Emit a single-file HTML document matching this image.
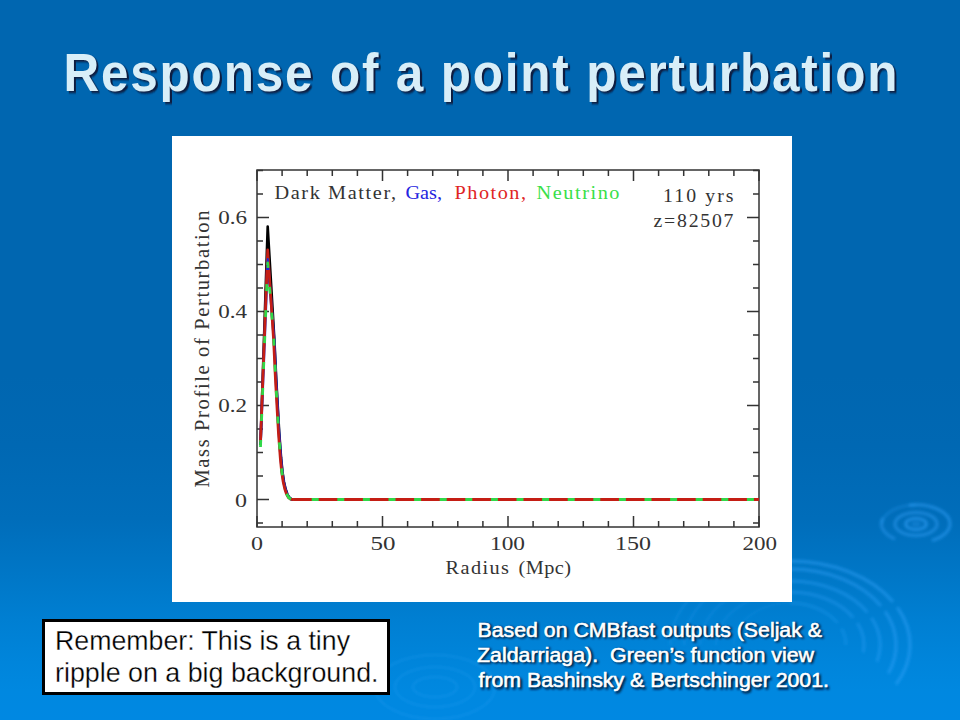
<!DOCTYPE html>
<html><head><meta charset="utf-8">
<style>
html,body{margin:0;padding:0;width:960px;height:720px;overflow:hidden;background:#0066b0;}
svg{display:block;}
</style></head>
<body>
<svg width="960" height="720" viewBox="0 0 960 720">
<defs>
<linearGradient id="bg" x1="0" y1="0" x2="0" y2="720" gradientUnits="userSpaceOnUse">
<stop offset="0" stop-color="#0066b0"/>
<stop offset="0.52" stop-color="#0066b0"/>
<stop offset="0.62" stop-color="#0068b3"/>
<stop offset="0.72" stop-color="#006dba"/>
<stop offset="0.80" stop-color="#0077c7"/>
<stop offset="0.86" stop-color="#007fd2"/>
<stop offset="0.92" stop-color="#0085db"/>
<stop offset="0.96" stop-color="#0088e0"/>
<stop offset="1" stop-color="#0088e2"/>
</linearGradient>
<filter id="blur1" x="-5%" y="-20%" width="110%" height="140%"><feGaussianBlur stdDeviation="0.8"/></filter>
<filter id="blur3" x="-30%" y="-30%" width="160%" height="160%"><feGaussianBlur stdDeviation="1.4"/></filter>
<filter id="blur2" x="-20%" y="-20%" width="140%" height="140%"><feGaussianBlur stdDeviation="1.2"/></filter>
</defs>
<rect x="0" y="0" width="960" height="720" fill="url(#bg)"/>

<g fill="none" stroke="#30a0f8" filter="url(#blur3)">
<ellipse cx="916" cy="524" rx="5" ry="2.5" fill="#2a98f0" fill-opacity="0.35" stroke="none"/>
<ellipse cx="916" cy="524" rx="10.3" ry="5.6" stroke-width="3" stroke-opacity="0.6"/>
<ellipse cx="916" cy="524" rx="21" ry="11.5" stroke-width="3" stroke-opacity="0.5"/>
<path d="M882 524 A34 19 0 0 1 916 505" stroke-width="2.5" stroke-opacity="0.3"/>
<path d="M909 505.2 A34 19 0 0 1 950 524 A34 19 0 0 1 932 540.5" stroke-width="3" stroke-opacity="0.55"/>
<path d="M883 518 A34 19 0 0 0 895 539" stroke-width="3" stroke-opacity="0.45"/>
</g>
<g fill="none" stroke="#30a4fc" filter="url(#blur3)">
<path d="M670 645 A120 84 0 0 1 790 561" stroke-width="3" stroke-opacity="0.17"/>
<path d="M790 561 A120 84 0 0 1 896.0 684.4" stroke-width="3" stroke-opacity="0.5" stroke-dasharray="114 7 400"/>
<path d="M684 645 A106 76 0 0 1 790 569" stroke-width="3" stroke-opacity="0.16"/>
<path d="M790 569 A106 76 0 0 1 888.3 673.5" stroke-width="3" stroke-opacity="0.45" stroke-dasharray="101 7 400"/>
<path d="M700 645 A90 64 0 0 1 790 581" stroke-width="3" stroke-opacity="0.14"/>
<path d="M790 581 A90 64 0 0 1 876.9 661.6" stroke-width="3" stroke-opacity="0.4" stroke-dasharray="86 7 400"/>
<path d="M716 645 A74 53 0 0 1 790 592" stroke-width="3" stroke-opacity="0.12"/>
<path d="M790 592 A74 53 0 0 1 863.3 652.4" stroke-width="3" stroke-opacity="0.35" stroke-dasharray="70 7 400"/>
<path d="M734 645 A56 42 0 0 1 790 603" stroke-width="2.5" stroke-opacity="0.10"/>
<path d="M790 603 A56 42 0 0 1 846.0 645.0" stroke-width="2.5" stroke-opacity="0.3" stroke-dasharray="53 7 400"/>
</g>
<g fill="none" stroke="#40b0ff" stroke-opacity="0.12" filter="url(#blur2)">
<ellipse cx="435" cy="687" rx="22" ry="10" stroke-width="3"/>
<ellipse cx="435" cy="687" rx="40" ry="20" stroke-width="3"/>
<ellipse cx="435" cy="687" rx="60" ry="32" stroke-width="3"/>
</g>

<g font-family="Liberation Sans, sans-serif" font-weight="bold" font-size="53.5" transform="scale(0.925,1)">
<text x="70.92" y="93.2" fill="#0a1e40" filter="url(#blur1)" textLength="901.62" lengthAdjust="spacing">Response of a point perturbation</text>
<text x="68.54" y="91" fill="#d8eef8" textLength="901.62" lengthAdjust="spacing">Response of a point perturbation</text>
</g>

<rect x="172" y="136" width="620" height="466" fill="#ffffff"/>
<g stroke="#333" stroke-width="1.5" fill="none">
<rect x="257" y="170" width="502" height="357"/>
<path d="M257.0 527V516M257.0 170V181M282.1 527V521M282.1 170V176M307.2 527V521M307.2 170V176M332.3 527V521M332.3 170V176M357.4 527V521M357.4 170V176M382.5 527V516M382.5 170V181M407.6 527V521M407.6 170V176M432.7 527V521M432.7 170V176M457.8 527V521M457.8 170V176M482.9 527V521M482.9 170V176M508.0 527V516M508.0 170V181M533.1 527V521M533.1 170V176M558.2 527V521M558.2 170V176M583.3 527V521M583.3 170V176M608.4 527V521M608.4 170V176M633.5 527V516M633.5 170V181M658.6 527V521M658.6 170V176M683.7 527V521M683.7 170V176M708.8 527V521M708.8 170V176M733.9 527V521M733.9 170V176M759.0 527V516M759.0 170V181M257 523.0H263M759 523.0H753M257 499.5H269M759 499.5H747M257 476.0H263M759 476.0H753M257 452.5H263M759 452.5H753M257 429.0H263M759 429.0H753M257 405.5H269M759 405.5H747M257 382.0H263M759 382.0H753M257 358.5H263M759 358.5H753M257 335.0H263M759 335.0H753M257 311.5H269M759 311.5H747M257 288.0H263M759 288.0H753M257 264.5H263M759 264.5H753M257 241.0H263M759 241.0H753M257 217.5H269M759 217.5H747M257 194.0H263M759 194.0H753M257 170.5H263M759 170.5H753"/>
</g>

<g fill="none" stroke-width="2.8">
<polyline stroke="#000" stroke-width="2.6" stroke-linejoin="round" points="260.5,445.0 267.7,226.5 274.4,340.0 276.3,380.0 277.4,400.0 279.2,432.0 281.1,458.0 282.5,472.0 284.0,482.0 285.6,489.0 287.3,494.0 289.1,497.3 291.4,499.2 293.0,499.5 759.0,499.5"/>
<polyline stroke="#1828d8" stroke-linejoin="round" points="260.5,443.0 267.7,258.0 274.1,340.0 276.0,380.0 277.1,400.0 278.9,432.0 280.8,458.0 282.2,472.0 283.7,482.0 285.3,489.0 287.0,494.0 288.8,497.3 291.1,499.2 293.0,499.5 759.0,499.5"/>
<polyline stroke="#c41e14" stroke-linejoin="round" points="260.5,442.0 267.7,250.0 273.6,340.0 275.5,380.0 276.6,400.0 278.4,432.0 280.3,458.0 281.7,472.0 283.2,482.0 284.8,489.0 286.5,494.0 288.3,497.3 290.6,499.2 293.0,499.5 759.0,499.5"/>
<polyline stroke="#1828d8" stroke-width="2" stroke-linejoin="round" points="267.1,270 267.7,259 268.5,270"/>
<polyline stroke="#30d848" stroke-linejoin="round" stroke-dasharray="7 19" points="260.5,447.0 267.7,263.0 273.8,340.0 275.7,380.0 276.8,400.0 278.6,432.0 280.5,458.0 281.9,472.0 283.4,482.0 285.0,489.0 286.7,494.0 288.5,497.3 290.8,499.2 293.0,499.5"/>
<path stroke="#30d848" stroke-dasharray="7 18.6" stroke-dashoffset="6.9" d="M293 499.5H759"/>
</g>

<g font-family="Liberation Serif, serif" font-size="19" fill="#333">
<text x="218.3" y="224.3" textLength="28.8" lengthAdjust="spacingAndGlyphs">0.6</text>
<text x="218.3" y="318.3" textLength="28.8" lengthAdjust="spacingAndGlyphs">0.4</text>
<text x="218.3" y="412.3" textLength="28.8" lengthAdjust="spacingAndGlyphs">0.2</text>
<text x="235" y="506.8" textLength="12" lengthAdjust="spacingAndGlyphs">0</text>
<text x="251" y="550" textLength="12" lengthAdjust="spacingAndGlyphs">0</text>
<text x="370.5" y="550" textLength="25" lengthAdjust="spacingAndGlyphs">50</text>
<text x="615" y="550" textLength="36" lengthAdjust="spacingAndGlyphs">150</text>
<text x="490" y="550" textLength="35" lengthAdjust="spacingAndGlyphs">100</text>
<text x="742.5" y="550" textLength="34.5" lengthAdjust="spacingAndGlyphs">200</text>
<text transform="translate(445.5,574.4) scale(1.04,1)" x="0" y="0" font-size="19.5" textLength="61.06" lengthAdjust="spacing">Radius</text>
<text transform="translate(518.5,574.4) scale(1.04,1)" x="0" y="0" font-size="19.5" textLength="50.48" lengthAdjust="spacing">(Mpc)</text>
<text transform="translate(209,487.5) rotate(-90)" font-size="20.5" textLength="277" lengthAdjust="spacing">Mass Profile of Perturbation</text>
<text transform="translate(274.5,199) scale(1.04,1)" x="0" y="0" font-size="19.5" textLength="116.83" lengthAdjust="spacing">Dark Matter,</text>
<text transform="translate(405.5,199) scale(1.04,1)" x="0" y="0" font-size="19.5" fill="#2424e0" textLength="35.10" lengthAdjust="spacing">Gas,</text>
<text transform="translate(454.5,199) scale(1.04,1)" x="0" y="0" font-size="19.5" fill="#e02424" textLength="68.75" lengthAdjust="spacing">Photon,</text>
<text transform="translate(536.5,199) scale(1.04,1)" x="0" y="0" font-size="19.5" fill="#38e048" textLength="79.81" lengthAdjust="spacing">Neutrino</text>
<text transform="translate(663,202) scale(1.04,1)" x="0" y="0" font-size="19" textLength="67.79" lengthAdjust="spacing">110 yrs</text>
<text transform="translate(653.5,226.8) scale(1.04,1)" x="0" y="0" font-size="19" textLength="76.92" lengthAdjust="spacing">z=82507</text>
</g>

<rect x="43.5" y="620.5" width="345" height="73" fill="#fff" stroke="#000" stroke-width="3"/>
<g font-family="Liberation Sans, sans-serif" font-size="28" fill="#000" stroke="#fff" stroke-width="0.3">
<text x="55" y="650.2" textLength="295" lengthAdjust="spacingAndGlyphs">Remember: This is a tiny</text>
<text x="55" y="682" textLength="323.5" lengthAdjust="spacingAndGlyphs">ripple on a big background.</text>
</g>

<g font-family="Liberation Sans, sans-serif" font-size="19.5">
<g fill="#001c3c" stroke="#001c3c" stroke-width="0.8" transform="translate(1.8,1.8)" filter="url(#blur1)">
<text x="477.5" y="636.5" textLength="344.5" lengthAdjust="spacingAndGlyphs">Based on CMBfast outputs (Seljak &amp;</text>
<text x="477" y="661.7" textLength="337" lengthAdjust="spacingAndGlyphs">Zaldarriaga). &#160;Green’s function view</text>
<text x="478.5" y="687" textLength="350.5" lengthAdjust="spacingAndGlyphs">from Bashinsky &amp; Bertschinger 2001.</text>
</g>
<g fill="#ffffff" stroke="#ffffff" stroke-width="0.55">
<text x="477.5" y="636.5" textLength="344.5" lengthAdjust="spacingAndGlyphs">Based on CMBfast outputs (Seljak &amp;</text>
<text x="477" y="661.7" textLength="337" lengthAdjust="spacingAndGlyphs">Zaldarriaga). &#160;Green’s function view</text>
<text x="478.5" y="687" textLength="350.5" lengthAdjust="spacingAndGlyphs">from Bashinsky &amp; Bertschinger 2001.</text>
</g>
</g>
</svg>
</body></html>
